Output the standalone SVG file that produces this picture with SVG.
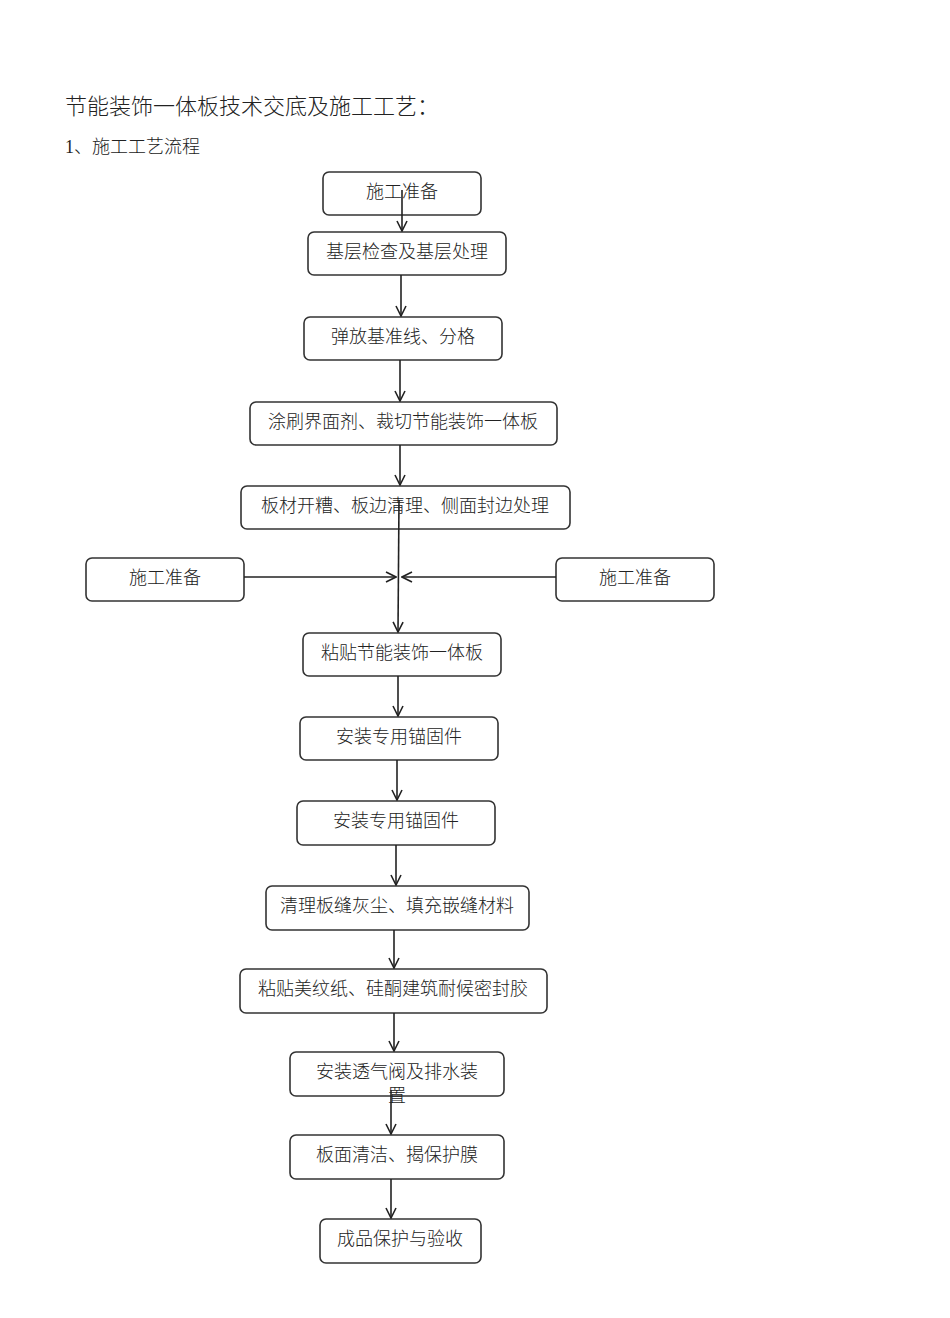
<svg xmlns="http://www.w3.org/2000/svg" width="950" height="1318" viewBox="0 0 950 1318">
<defs>
<style>
.b{fill:#fff;stroke:#333;stroke-width:1.6}
.t{font-family:"Liberation Serif","Noto Sans CJK SC",serif;font-size:18px;fill:#222;text-anchor:middle;font-weight:300}
.c line{stroke:#222;stroke-width:1.6;marker-end:url(#a)}
</style>
<marker id="a" viewBox="0 0 12 12" refX="11" refY="6" markerWidth="12" markerHeight="12" markerUnits="userSpaceOnUse" orient="auto"><path d="M1,1 L11,6 L1,11" fill="none" stroke="#222" stroke-width="1.6"/></marker>
</defs>
<rect width="950" height="1318" fill="#fff"/>
<text x="65" y="114" font-family="Liberation Serif,'Noto Sans CJK SC',serif" font-size="22" fill="#222" font-weight="300">节能装饰一体板技术交底及施工工艺：</text>
<text x="65" y="153" font-family="Liberation Serif,'Noto Sans CJK SC',serif" font-size="18" fill="#222" font-weight="300">1、施工工艺流程</text>
<g id="n1"><rect class="b" x="323" y="172" width="158" height="43" rx="6"/><text class="t" x="402" y="198">施工准备</text></g>
<g id="n2"><rect class="b" x="308" y="232" width="198" height="43" rx="6"/><text class="t" x="407" y="258">基层检查及基层处理</text></g>
<g id="n3"><rect class="b" x="304" y="317" width="198" height="43" rx="6"/><text class="t" x="403" y="343">弹放基准线、分格</text></g>
<g id="n4"><rect class="b" x="250" y="402" width="307" height="43" rx="6"/><text class="t" x="403" y="428">涂刷界面剂、裁切节能装饰一体板</text></g>
<g id="n5"><rect class="b" x="241" y="486" width="329" height="43" rx="6"/><text class="t" x="405" y="512">板材开糟、板边清理、侧面封边处理</text></g>
<g id="nL"><rect class="b" x="86" y="558" width="158" height="43" rx="6"/><text class="t" x="165" y="584">施工准备</text></g>
<g id="nR"><rect class="b" x="556" y="558" width="158" height="43" rx="6"/><text class="t" x="635" y="584">施工准备</text></g>
<g id="n6"><rect class="b" x="303" y="633" width="198" height="43" rx="6"/><text class="t" x="402" y="659">粘贴节能装饰一体板</text></g>
<g id="n7"><rect class="b" x="300" y="717" width="198" height="43" rx="6"/><text class="t" x="399" y="743">安装专用锚固件</text></g>
<g id="n8"><rect class="b" x="297" y="801" width="198" height="44" rx="6"/><text class="t" x="396" y="827">安装专用锚固件</text></g>
<g id="n9"><rect class="b" x="266" y="886" width="263" height="44" rx="6"/><text class="t" x="397" y="912">清理板缝灰尘、填充嵌缝材料</text></g>
<g id="n10"><rect class="b" x="240" y="969" width="307" height="44" rx="6"/><text class="t" x="393" y="995">粘贴美纹纸、硅酮建筑耐候密封胶</text></g>
<g id="n11"><rect class="b" x="290" y="1052" width="214" height="44" rx="6"/><text class="t" x="397" y="1078">安装透气阀及排水装</text><text class="t" x="397" y="1102">置</text></g>
<g id="n12"><rect class="b" x="290" y="1135" width="214" height="44" rx="6"/><text class="t" x="397" y="1161">板面清洁、揭保护膜</text></g>
<g id="n13"><rect class="b" x="320" y="1219" width="161" height="44" rx="6"/><text class="t" x="400" y="1245">成品保护与验收</text></g>
<g class="c">
<line x1="402" y1="190" x2="402" y2="231"/>
<line x1="401" y1="275" x2="401" y2="316"/>
<line x1="400" y1="360" x2="400" y2="401"/>
<line x1="400" y1="445" x2="400" y2="485"/>
<line x1="399" y1="500" x2="398" y2="632"/>
<line x1="244" y1="577" x2="396" y2="577"/>
<line x1="556" y1="577" x2="402" y2="577"/>
<line x1="398" y1="676" x2="398" y2="716"/>
<line x1="397" y1="760" x2="397" y2="800"/>
<line x1="396" y1="845" x2="396" y2="885"/>
<line x1="394" y1="930" x2="394" y2="968"/>
<line x1="394" y1="1013" x2="394" y2="1051"/>
<line x1="391" y1="1090" x2="391" y2="1134"/>
<line x1="391" y1="1179" x2="391" y2="1218"/>
</g>
</svg>
